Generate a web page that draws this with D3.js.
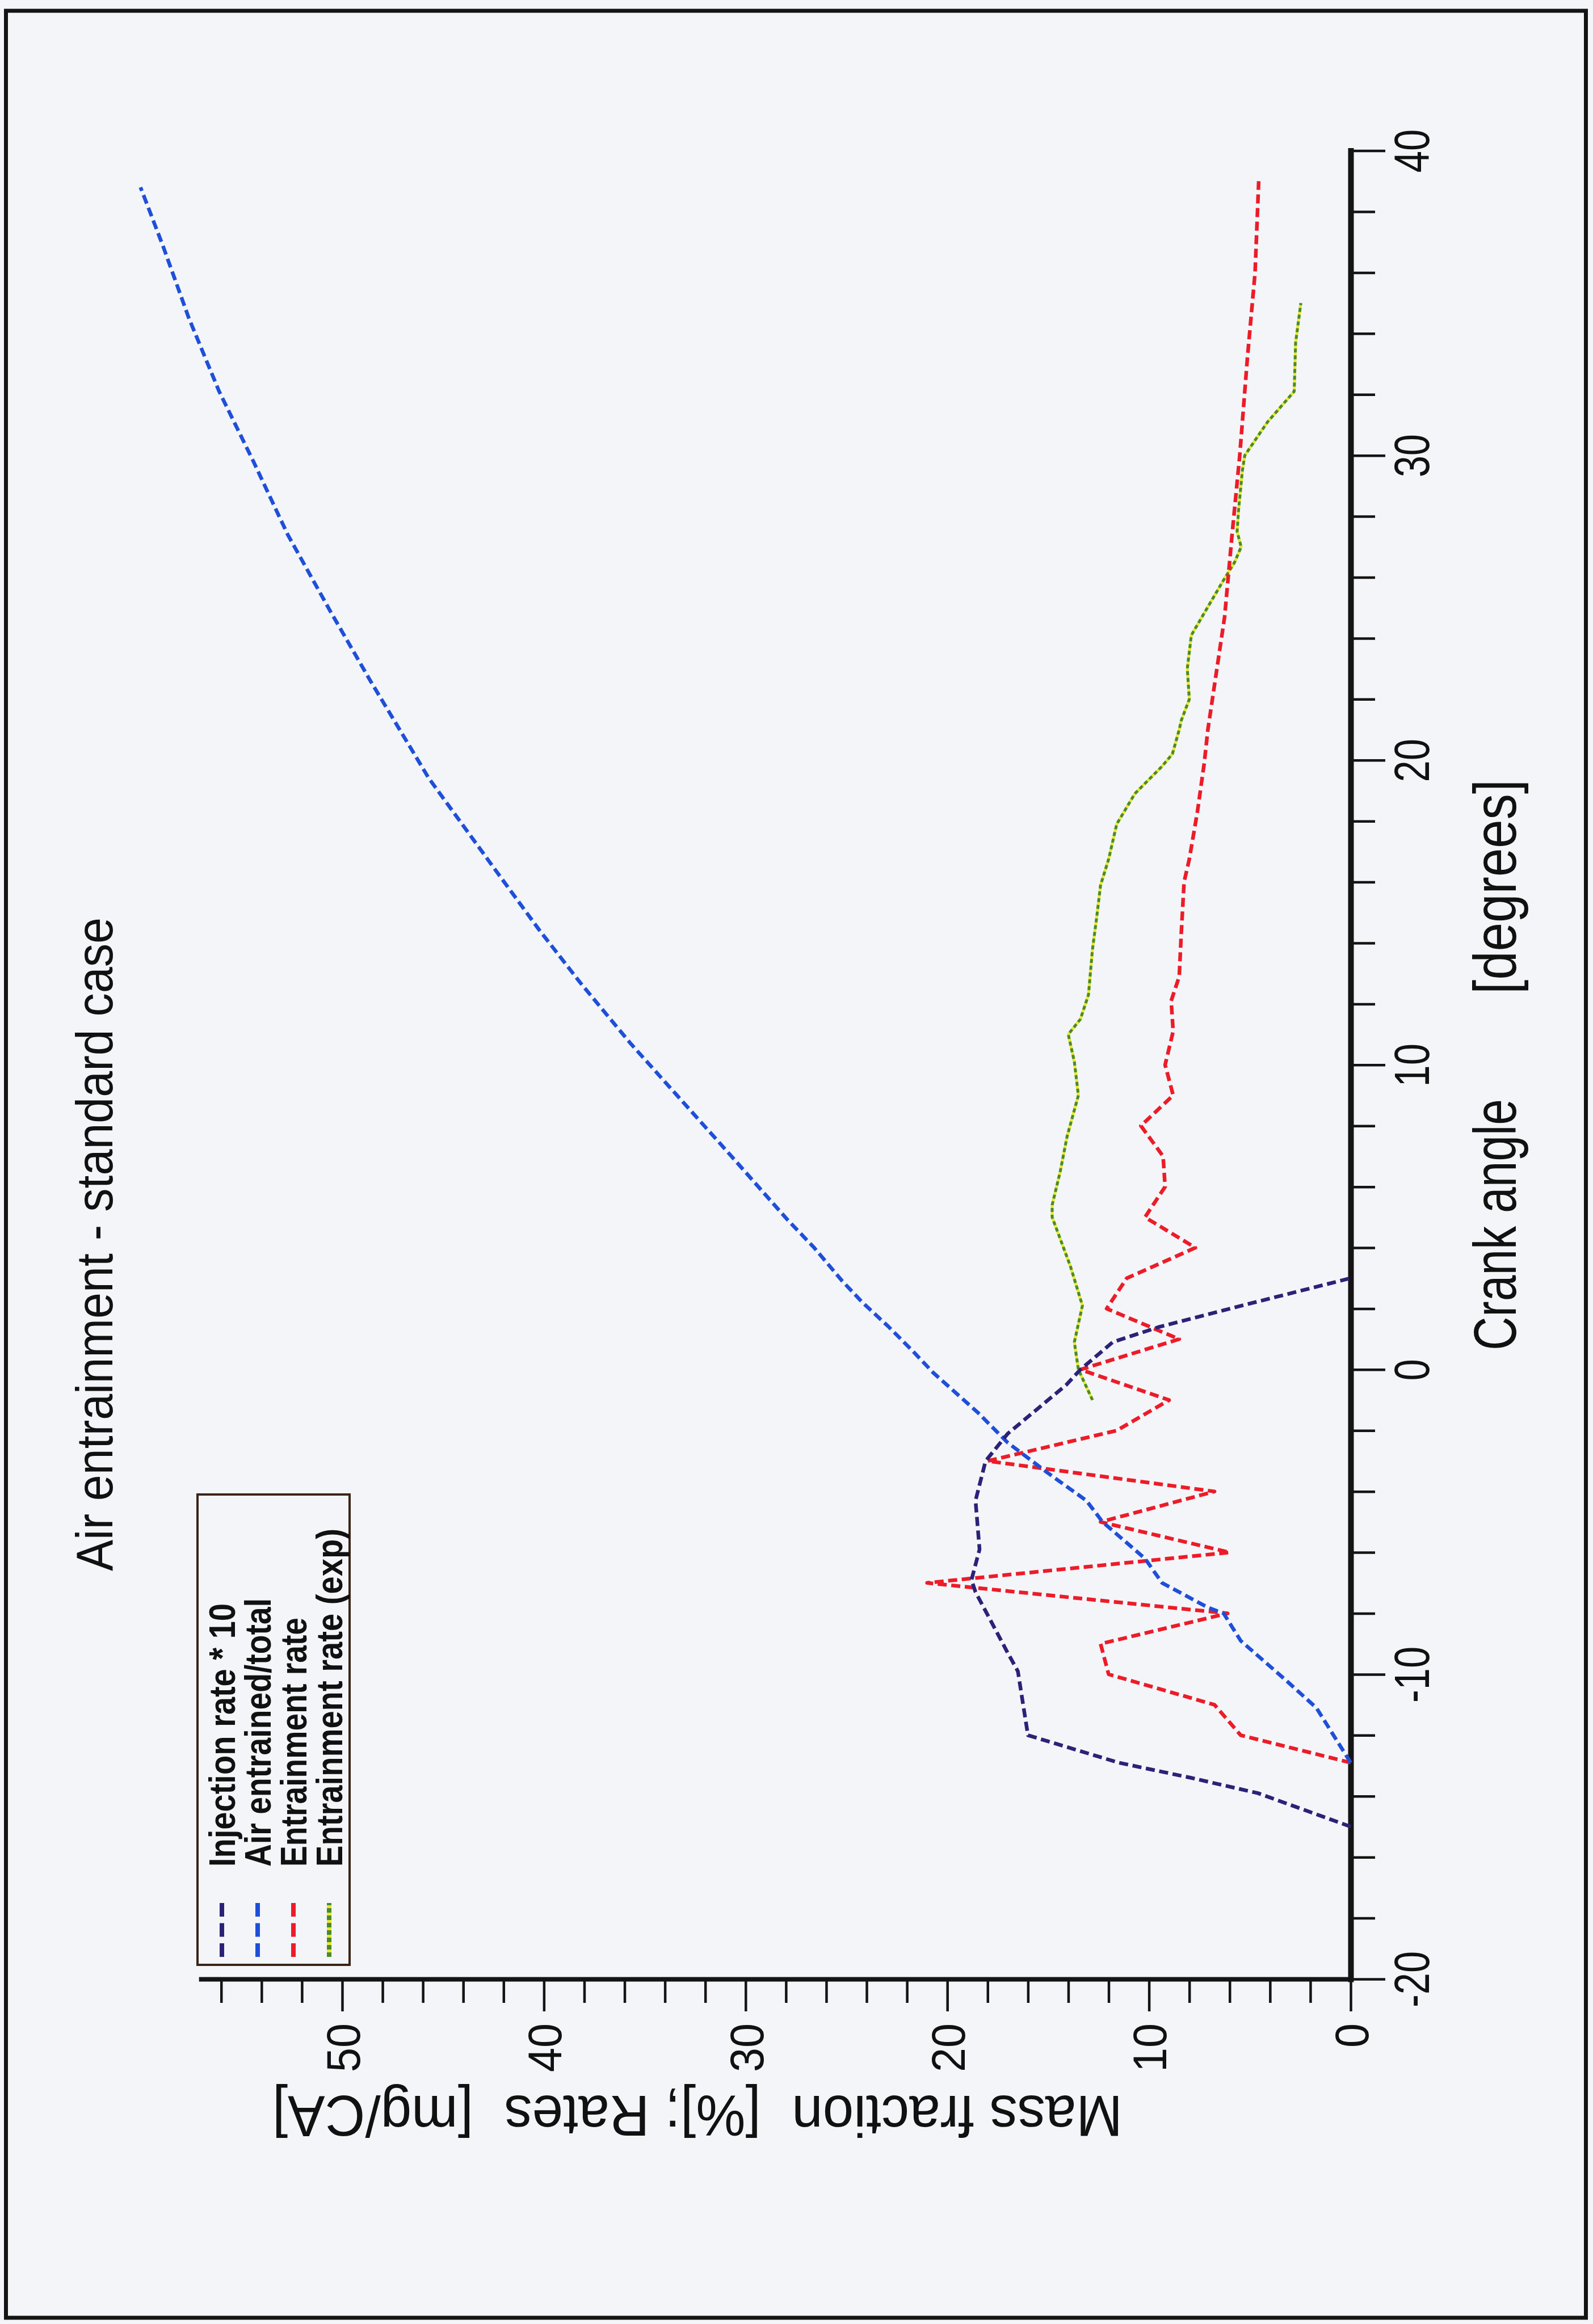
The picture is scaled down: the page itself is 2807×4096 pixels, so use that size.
<!DOCTYPE html>
<html>
<head>
<meta charset="utf-8">
<script src="https://cdn.jsdelivr.net/npm/d3@7"></script>
<style>
  html, body { margin: 0; padding: 0; background: #f3f5f9; }
  svg { display: block; }
  text { font-family: "Liberation Sans", Arial, Helvetica, sans-serif; fill: #111; }
</style>
</head>
<body>
<svg id="chart" width="2807" height="4096"></svg>
<script>
// ---- data -------------------------------------------------------------
const chartTitle = "Air entrainment - standard case";
const crankTitle = ["Crank angle", "[degrees]"];
const massTitle = "Mass fraction  [%]; Rates  [mg/CA]";

const crankMajor = [-20, -10, 0, 10, 20, 30, 40];
const crankMinor = d3.range(-18, 40, 2).filter(v => v % 10 !== 0);
const massMajor = [0, 10, 20, 30, 40, 50];
const massMinor = d3.range(2, 57, 2).filter(v => v % 10 !== 0);

const seriesNames = ["Injection rate * 10", "Air entrained/total", "Entrainment rate", "Entrainment rate (exp)"];

// points are [crank angle (deg), value]
const injectionRate = [
  [-15, 0], [-13.9, 4.6], [-13.4, 7.9], [-12.9, 11.5], [-12, 16.0], [-9.9, 16.5], [-9.3, 17.0],
  [-7.3, 18.6], [-6.9, 18.8], [-5.9, 18.4], [-4.3, 18.6], [-3.0, 18.1], [-2.1, 17.0],
  [-0.5, 14.1], [0, 13.4], [0.9, 11.8], [1.4, 9.5], [2.1, 5.4], [3.0, 0]
];
const airEntrained = [
  [-12.9, 0], [-11.1, 1.7], [-10.2, 3.2], [-8.9, 5.45], [-8.0, 6.3], [-7.8, 7.1], [-7.0, 9.35],
  [-6.2, 10.2], [-5.0, 12.3], [-4.3, 13.1], [-3.4, 15.0], [-2.4, 17.0], [-1.4, 18.5], [-0.1, 20.7],
  [0.6, 21.7], [1.4, 22.9], [2.2, 24.2], [2.9, 25.2], [4.0, 26.6], [4.9, 27.9], [7.0, 30.7],
  [9.0, 33.4], [10.7, 35.7], [12.7, 38.2], [14.4, 40.2], [16.3, 42.3], [19.4, 45.7], [22.6, 48.6],
  [24.9, 50.6], [27.4, 52.7], [29.8, 54.4], [32.1, 56.1], [34.5, 57.6], [36.9, 58.9], [38.8, 60.0]
];
const entrainmentRate = [
  [-12.9, 0], [-12, 5.45], [-11, 6.75], [-10, 12.0], [-9, 12.4], [-8, 6.1], [-7, 21.0], [-6, 6.0],
  [-5, 12.4], [-4, 6.75], [-3, 18.0], [-2, 11.6], [-1, 9.0], [0, 13.4], [1, 8.5], [2, 12.1],
  [3, 11.1], [4, 7.7], [5, 10.2], [6, 9.2], [7, 9.3], [8, 10.4], [9, 8.8], [10, 9.2], [11.1, 8.8],
  [12.1, 8.9], [12.9, 8.5], [14.3, 8.4], [16, 8.26], [16.75, 8.0], [18.3, 7.6], [19.9, 7.26],
  [21, 7.08], [24.7, 6.25], [27.4, 5.88], [30, 5.5], [33.2, 5.12], [36, 4.74], [39, 4.56]
];
const entrainmentExp = [
  [-1, 12.8], [0, 13.5], [0.9, 13.7], [2.1, 13.3], [3.4, 13.9], [5.0, 14.8], [5.4, 14.8],
  [6.5, 14.4], [7.65, 14.06], [9.0, 13.5], [10.1, 13.7], [11.0, 14.0], [11.5, 13.4], [12.3, 13.0],
  [13.8, 12.8], [14.8, 12.6], [15.9, 12.4], [16.75, 12.0], [17.9, 11.6], [18.9, 10.7], [19.8, 9.35],
  [20.2, 8.84], [21.0, 8.5], [21.3, 8.4], [22.0, 8.0], [23.0, 8.1], [24.1, 7.9], [25.8, 6.4],
  [26.5, 5.75], [27.0, 5.43], [27.5, 5.63], [28.2, 5.56], [29.5, 5.37], [30.0, 5.25], [31.1, 4.12],
  [32.1, 2.8], [33.7, 2.73], [35.0, 2.47]
];

// ---- page set-up ------------------------------------------------------
const svg = d3.select("#chart");
const ink = "#141414";

svg.append("rect")
  .attr("x", 10.5).attr("y", 19).attr("width", 2784).attr("height", 4066)
  .attr("fill", "#f3f5f9").attr("stroke", ink).attr("stroke-width", 7);

// The plot is drawn turned a quarter turn: crank angle runs up the page,
// mass fraction runs from right to left.
const ca = d3.scaleLinear().domain([-20, 40]).range([3488, 265.6]);
const mf = d3.scaleLinear().domain([0, 57]).range([2380, 354.2]);

// ---- crank-angle axis (vertical, right) -----------------------------
const gCAminor = svg.append("g").attr("transform", `translate(${mf(0)},0)`)
  .call(d3.axisRight(ca).tickValues(crankMinor).tickSize(43).tickFormat("").tickSizeOuter(0));
gCAminor.select(".domain").remove();

const gCA = svg.append("g").attr("transform", `translate(${mf(0)},0)`)
  .call(d3.axisRight(ca).tickValues(crankMajor).tickSize(61).tickSizeOuter(0).tickFormat(d => String(d)));
gCA.select(".domain").attr("stroke", ink).attr("stroke-width", 10).attr("stroke-linecap", "square");
gCA.selectAll(".tick text")
  .attr("x", null).attr("y", null).attr("dy", null)
  .attr("text-anchor", "middle")
  .attr("font-size", 88)
  .attr("fill", "#111")
  .attr("transform", "translate(138,0) rotate(-90) scale(0.78,1)");

// ---- mass-fraction axis (horizontal, bottom) --------------------------
const gMFminor = svg.append("g").attr("transform", `translate(0,${ca(-20)})`)
  .call(d3.axisBottom(mf).tickValues(massMinor).tickSize(42).tickFormat("").tickSizeOuter(0));
gMFminor.select(".domain").remove();

const gMF = svg.append("g").attr("transform", `translate(0,${ca(-20)})`)
  .call(d3.axisBottom(mf).tickValues(massMajor).tickSize(57).tickSizeOuter(0).tickFormat(d => String(d)));
gMF.select(".domain").attr("stroke", ink).attr("stroke-width", 8).attr("stroke-linecap", "square");
gMF.selectAll(".tick text")
  .attr("x", null).attr("y", null).attr("dy", "0.36em")
  .attr("text-anchor", "end")
  .attr("font-size", 84)
  .attr("fill", "#111")
  .attr("transform", "translate(0,78) rotate(-90) scale(0.92,1)");

svg.selectAll(".tick line").attr("stroke", ink).attr("stroke-width", 4.5);

// ---- titles -------------------------------------------------------------
svg.append("text")
  .attr("transform", "translate(198,2769) rotate(-90)")
  .attr("font-size", 91)
  .attr("textLength", 1152).attr("lengthAdjust", "spacingAndGlyphs")
  .text(chartTitle);

svg.append("text")
  .attr("transform", "translate(2671,2380) rotate(-90)")
  .attr("font-size", 105)
  .attr("textLength", 443).attr("lengthAdjust", "spacingAndGlyphs")
  .text(crankTitle[0]);
svg.append("text")
  .attr("transform", "translate(2671,1752) rotate(-90)")
  .attr("font-size", 105)
  .attr("textLength", 378).attr("lengthAdjust", "spacingAndGlyphs")
  .text(crankTitle[1]);

svg.append("text")
  .attr("transform", "translate(1978,3694) rotate(180)")
  .attr("font-size", 102)
  .style("white-space", "pre")
  .attr("textLength", 1498).attr("lengthAdjust", "spacingAndGlyphs")
  .text(massTitle);

// ---- curves ---------------------------------------------------------------
const series = [
  { name: seriesNames[0], data: injectionRate, color: "#2b2277", dash: "16 8" },
  { name: seriesNames[1], data: airEntrained, color: "#1f4fd8", dash: "16 8" },
  { name: seriesNames[2], data: entrainmentRate, color: "#ec1c28", dash: "16 8" },
  { name: seriesNames[3], data: entrainmentExp, color: "#4b8a2c", dash: "7 5", under: "#e8e830" }
];

const line = d3.line().x(d => mf(d[1])).y(d => ca(d[0]));

const gLines = svg.append("g").attr("fill", "none")
  .attr("stroke-linejoin", "round");

// draw order: exp data first, then entrainment, air, injection on top
[3, 2, 1, 0].forEach(i => {
  const s = series[i];
  if (s.under) {
    gLines.append("path").attr("d", line(s.data))
      .attr("stroke", s.under).attr("stroke-width", 5);
  }
  gLines.append("path").attr("d", line(s.data))
    .attr("stroke", s.color)
    .attr("stroke-width", s.under ? 5 : 6.5)
    .attr("stroke-dasharray", s.dash);
});

// ---- legend ---------------------------------------------------------------
const legend = svg.append("g");
legend.append("rect")
  .attr("x", 348).attr("y", 2634).attr("width", 268).attr("height", 829)
  .attr("fill", "none").attr("stroke", "#3b2418").attr("stroke-width", 4);

const legendBaselines = [414, 477, 540, 603];
const legendLengths = [464, 473, 439, 596];

series.forEach((s, i) => {
  const bx = legendBaselines[i];
  const cx = bx - 23;
  if (s.under) {
    legend.append("line")
      .attr("x1", cx).attr("x2", cx).attr("y1", 3449).attr("y2", 3354)
      .attr("stroke", s.under).attr("stroke-width", 8);
  }
  legend.append("line")
    .attr("x1", cx).attr("x2", cx).attr("y1", 3449).attr("y2", 3354)
    .attr("stroke", s.color).attr("stroke-width", 8)
    .attr("stroke-dasharray", s.under ? "8 5" : "24 11.5");
  legend.append("text")
    .attr("transform", `translate(${bx},3290) rotate(-90)`)
    .attr("font-size", 64).attr("font-weight", "bold")
    .attr("textLength", legendLengths[i]).attr("lengthAdjust", "spacingAndGlyphs")
    .text(s.name);
});
</script>
</body>
</html>
